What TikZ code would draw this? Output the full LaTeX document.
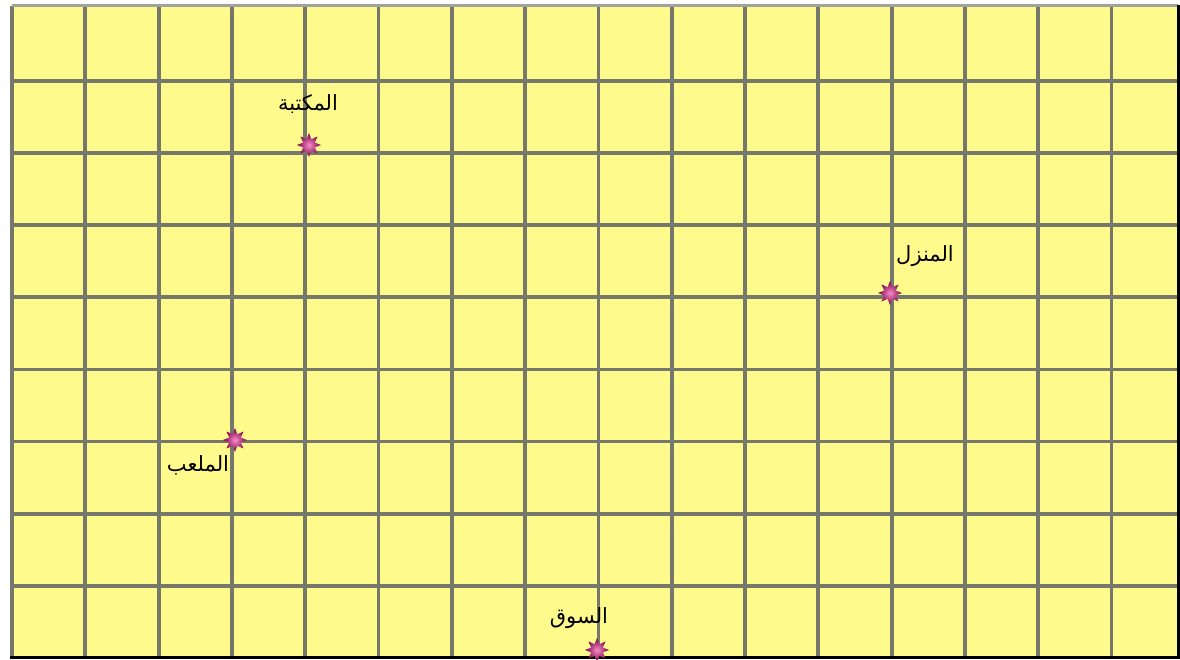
\documentclass[tikz,border=0pt]{standalone}
\usepackage{fontspec}
\newfontfamily\arabicfont[Script=Arabic]{DejaVu Sans}
\TeXXeTstate=1
\usetikzlibrary{shapes.geometric}
\definecolor{paper}{RGB}{255,250,140}
\definecolor{gridgray}{RGB}{118,120,108}
\definecolor{edgegray}{RGB}{160,162,160}
\definecolor{starin}{RGB}{250,140,200}
\definecolor{starout}{RGB}{120,0,70}
\tikzset{
  gridline/.style={draw=gridgray, line width=3.8pt},
  place/.style={star, star points=8, star point ratio=1.9, minimum size=24pt, inner sep=0pt,
    draw=none, inner color=starin, outer color=starout},
  lbl/.style={font=\arabicfont\fontsize{21}{25}\selectfont, inner sep=0pt, text=black}
}
\begin{document}
\begin{tikzpicture}[x=1pt,y=-1pt]
\useasboundingbox (0,0) rectangle (1180,659);
\fill[white] (0,0) rectangle (1180,659);
\fill[paper] (12,6) rectangle (1178,657);
% horizontal lines
\foreach \j in {0,...,7} {
  \draw[gridline] (12,81+72.1*\j) -- (1178,81+72.1*\j);
}
% vertical lines
\foreach \i in {0,...,15} {
  \draw[gridline] (12+73.3*\i,6) -- (12+73.3*\i,657);
}
% border
\draw[edgegray, line width=3pt] (12,5) -- (1178,5);
\draw[black, line width=3pt] (1178,5) -- (1178,658);
\draw[black, line width=3pt] (10,657.5) -- (1180,657.5);
% places
\node[place] (library) at (309,145) {};
\node[place] (home) at (890,293) {};
\node[place] (stadium) at (235,440) {};
\node[place] (market) at (597,650) {};
% labels
\node[lbl] (libraryl) at (308,104) {\beginR المكتبة\endR};
\node[lbl] (homel) at (925,256) {\beginR المنزل\endR};
\node[lbl] (stadiuml) at (198,465) {\beginR الملعب\endR};
\node[lbl] (marketl) at (579,618) {\beginR السوق\endR};
\end{tikzpicture}
\end{document}
